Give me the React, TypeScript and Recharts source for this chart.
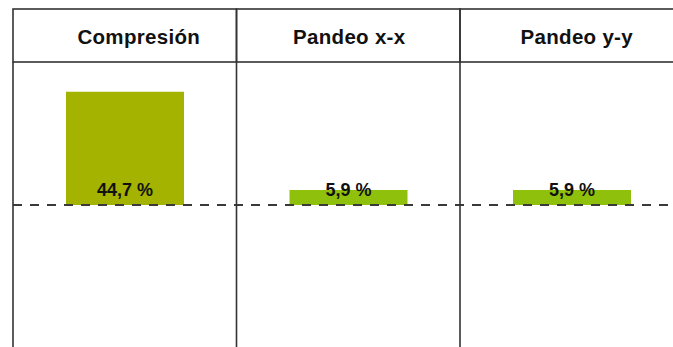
import React from 'react';
import { BarChart, Bar, XAxis, YAxis, ReferenceLine, Cell, LabelList } from 'recharts';

const categories = ['Compresión', 'Pandeo x-x', 'Pandeo y-y'];
const values = [44.7, 5.9, 5.9];
const barColors = ['#a3b300', '#8fc00c', '#8fc00c'];
const headerShift = [14, 1, 5];

const data = categories.map((name, i) => ({ name, value: values[i] }));

const CHART_W = 690;
const CHART_H = 360;
const MARGIN = { top: 9, right: 6.5, bottom: 12, left: 13 };
const HEADER_H = 53;
const PLOT_W = CHART_W - MARGIN.left - MARGIN.right;
const PLOT_H = CHART_H - MARGIN.top - MARGIN.bottom - HEADER_H;
const BAND = PLOT_W / categories.length;
const FONT = '"Liberation Sans", Arial, sans-serif';

const HeaderTick = (props: any) => {
  const { x, y, payload, index } = props;
  return (
    <g>
      <rect
        x={x - BAND / 2}
        y={y - HEADER_H}
        width={BAND}
        height={HEADER_H}
        fill="none"
        stroke="#333"
        strokeWidth={1.6}
      />
      <line x1={x - BAND / 2} x2={x - BAND / 2} y1={y} y2={y + PLOT_H + 5} stroke="#333" strokeWidth={1.6} />
      <text
        x={x + (headerShift[index] || 0)}
        y={y - 18}
        textAnchor="middle"
        fontFamily={FONT}
        fontWeight="bold"
        fontSize={20.5}
        letterSpacing={0.3}
        fill="#111"
      >
        {payload.value}
      </text>
    </g>
  );
};

const fmt = (v: any) => `${Number(v).toFixed(1).replace('.', ',')} %`;

export default function App() {
  return (
    <div style={{ position: 'absolute', left: 0, top: 0, width: 673, height: 347, overflow: 'hidden', background: '#fff' }}>
      <BarChart width={CHART_W} height={CHART_H} data={data} margin={MARGIN}>
        <XAxis
          dataKey="name"
          orientation="top"
          height={HEADER_H}
          axisLine={false}
          tickLine={false}
          tickSize={0}
          tickMargin={0}
          tick={<HeaderTick />}
          interval={0}
        />
        <YAxis hide domain={[-56.5, 56.5]} allowDataOverflow />
        <Bar dataKey="value" barSize={118} isAnimationActive={false}>
          {data.map((d, i) => (
            <Cell key={d.name} fill={barColors[i]} />
          ))}
          <LabelList
            dataKey="value"
            position="insideBottom"
            offset={9}
            formatter={fmt}
            fill="#111"
            fontSize={18}
            fontWeight="bold"
            fontFamily={FONT}
          />
        </Bar>
        <ReferenceLine y={0} stroke="#3a3a3a" strokeWidth={2.2} strokeDasharray="9 8" />
      </BarChart>
    </div>
  );
}
